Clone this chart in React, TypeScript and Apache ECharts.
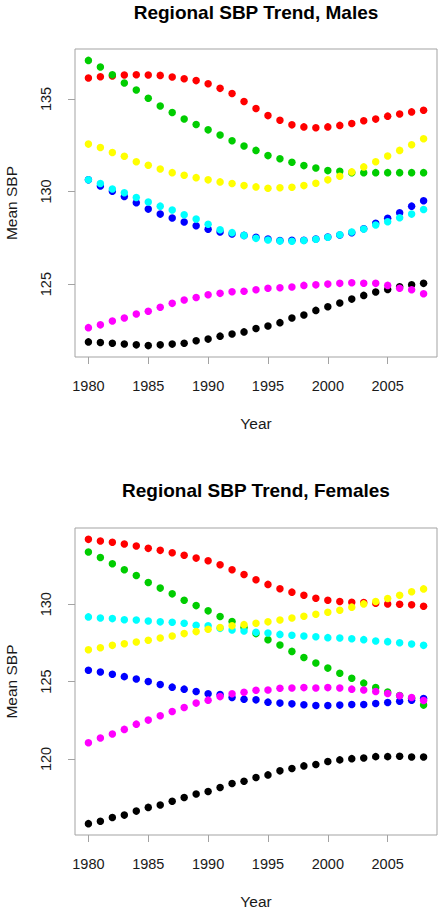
import React, { useEffect, useRef } from "react";
import * as echarts from "echarts";

const years = Array.from({ length: 29 }, (_, i) => 1980 + i);
const xTicks = [1980, 1985, 1990, 1995, 2000, 2005];
const maleYTicks = [125, 130, 135];
const femaleYTicks = [120, 125, 130];

const titles = ["Regional SBP Trend, Males", "Regional SBP Trend, Females"];
const xName = "Year";
const yName = "Mean SBP";

// drawing order (R palette order): black, red, green3, blue, cyan, magenta, yellow
const colors = ["#000000", "#FF0000", "#00CD00", "#0000FF", "#00FFFF", "#FF00FF", "#FFFF00"];
const regionNames = ["Black", "Red", "Green", "Blue", "Cyan", "Magenta", "Yellow"];

const maleBlack = [121.88,121.85,121.81,121.77,121.72,121.68,121.72,121.76,121.81,121.94,122.03,122.19,122.31,122.42,122.60,122.74,122.92,123.17,123.33,123.58,123.78,123.98,124.19,124.39,124.57,124.71,124.86,124.96,125.04];
const maleRed = [136.13,136.2,136.24,136.29,136.31,136.29,136.27,136.18,136.09,135.99,135.82,135.57,135.29,134.86,134.48,134.10,133.85,133.60,133.49,133.44,133.49,133.57,133.67,133.82,133.91,134.07,134.19,134.30,134.39];
const maleGreen = [137.08,136.72,136.31,135.86,135.48,135.04,134.62,134.27,133.92,133.62,133.33,133.05,132.74,132.46,132.22,131.94,131.77,131.58,131.40,131.27,131.13,131.09,131.02,131.02,131.02,131.02,131.02,131.02,131.02];
const maleBlue = [130.63,130.3,130.02,129.73,129.40,129.05,128.78,128.57,128.35,128.15,127.96,127.81,127.71,127.63,127.53,127.44,127.35,127.37,127.37,127.44,127.54,127.65,127.78,127.99,128.28,128.55,128.85,129.21,129.50];
const maleCyan = [130.63,130.43,130.14,129.93,129.68,129.43,129.21,129.0,128.75,128.51,128.23,127.94,127.78,127.63,127.47,127.38,127.33,127.31,127.35,127.42,127.53,127.67,127.81,127.97,128.19,128.37,128.58,128.78,129.03];
const maleMagenta = [122.65,122.80,123.01,123.17,123.39,123.53,123.75,123.96,124.14,124.28,124.43,124.50,124.59,124.61,124.70,124.78,124.80,124.84,124.93,124.96,125.0,125.04,125.07,125.05,125.04,124.93,124.78,124.70,124.48];
const maleYellow = [132.56,132.38,132.11,131.90,131.61,131.42,131.22,131.02,130.88,130.75,130.63,130.52,130.43,130.32,130.25,130.18,130.20,130.23,130.32,130.45,130.63,130.82,131.06,131.33,131.61,131.92,132.22,132.53,132.85];

const femaleBlack = [115.82,115.97,116.22,116.37,116.63,116.87,117.02,117.27,117.51,117.73,117.90,118.15,118.41,118.56,118.80,118.97,119.23,119.38,119.55,119.64,119.83,119.94,120.02,120.06,120.15,120.15,120.17,120.13,120.13];
const femaleRed = [134.19,134.08,134.0,133.89,133.76,133.61,133.48,133.33,133.16,132.98,132.81,132.55,132.23,131.92,131.58,131.28,131.0,130.78,130.58,130.39,130.26,130.17,130.13,130.11,130.06,130.02,130.0,129.96,129.87];
const femaleGreen = [133.37,133.02,132.61,132.23,131.86,131.40,131.04,130.67,130.26,129.91,129.57,129.20,128.88,128.49,128.10,127.71,127.36,126.95,126.56,126.20,125.87,125.54,125.22,124.90,124.62,124.33,124.10,123.92,123.48];
const femaleBlue = [125.73,125.62,125.47,125.32,125.17,125.0,124.81,124.64,124.51,124.36,124.21,124.16,123.97,123.86,123.82,123.67,123.61,123.56,123.50,123.45,123.45,123.48,123.52,123.52,123.58,123.65,123.73,123.80,123.91];
const femaleCyan = [129.18,129.11,129.07,129.0,128.98,128.92,128.86,128.83,128.77,128.64,128.60,128.44,128.34,128.27,128.18,128.14,128.05,127.99,127.95,127.90,127.84,127.82,127.77,127.71,127.62,127.58,127.51,127.43,127.34];
const femaleMagenta = [121.05,121.35,121.61,121.91,122.25,122.51,122.79,123.07,123.33,123.61,123.80,124.03,124.21,124.31,124.44,124.46,124.57,124.59,124.61,124.59,124.61,124.59,124.51,124.46,124.36,124.23,124.08,123.97,123.78];
const femaleYellow = [127.06,127.19,127.34,127.45,127.56,127.67,127.82,127.95,128.10,128.23,128.38,128.49,128.60,128.68,128.77,128.86,128.98,129.11,129.22,129.35,129.48,129.61,129.81,130.02,130.17,130.37,130.58,130.80,130.99];

const maleSeries = [maleBlack, maleRed, maleGreen, maleBlue, maleCyan, maleMagenta, maleYellow];
const femaleSeries = [femaleBlack, femaleRed, femaleGreen, femaleBlue, femaleCyan, femaleMagenta, femaleYellow];

const FONT = "'Liberation Sans', Arial, Helvetica, sans-serif";
const BOX = "#a3a3a3";
const TXT = "#1a1a1a";

// R style 4% axis extension
function rRange(vals: number[]) {
  const mn = Math.min(...vals);
  const mx = Math.max(...vals);
  const d = (mx - mn) * 0.04;
  return [mn - d, mx + d];
}

export default function App() {
  const ref = useRef<HTMLDivElement>(null);
  useEffect(() => {
    if (!ref.current) return;
    const chart = echarts.init(ref.current, undefined, { renderer: "svg" });
    const xr = rRange(years);
    const panels = [
      { series: maleSeries, ticks: maleYTicks },
      { series: femaleSeries, ticks: femaleYTicks },
    ];
    const grids = [
      { left: 75, top: 49, width: 362, height: 308 },
      { left: 75, top: 528, width: 362, height: 307 },
    ];
    const option: any = {
      animation: false,
      backgroundColor: "#ffffff",
      title: titles.map((t, i) => ({
        text: t,
        left: 256,
        top: i === 0 ? 3 : 481,
        textAlign: "center",
        padding: 0,
        textStyle: { fontFamily: FONT, fontSize: 19, fontWeight: "bold", color: "#000" },
      })),
      grid: grids.map((g) => ({
        ...g,
        show: true,
        borderColor: BOX,
        borderWidth: 1,
        backgroundColor: "transparent",
        containLabel: false,
        outerBoundsMode: "none",
      })),
      xAxis: panels.map((_, i) => ({
        type: "value",
        gridIndex: i,
        min: xr[0],
        max: xr[1],
        name: xName,
        nameLocation: "middle",
        nameGap: 58,
        nameTextStyle: { fontFamily: FONT, fontSize: 15.5, color: TXT },
        axisLine: { show: false },
        splitLine: { show: false },
        axisTick: { show: true, length: 7, customValues: xTicks, lineStyle: { color: BOX } },
        axisLabel: {
          customValues: xTicks,
          margin: 21,
          fontFamily: FONT,
          fontSize: 14.5,
          color: TXT,
          formatter: (v: number) => String(Math.round(v)),
        },
      })),
      yAxis: panels.map((p, i) => {
        const all = ([] as number[]).concat(...p.series);
        const yr = rRange(all);
        return {
          type: "value",
          gridIndex: i,
          min: yr[0],
          max: yr[1],
          name: yName,
          nameLocation: "middle",
          nameGap: 55.5,
          nameRotate: 90,
          nameTextStyle: { fontFamily: FONT, fontSize: 15.5, color: TXT },
          axisLine: { show: false },
          splitLine: { show: false },
          axisTick: { show: true, length: 7, customValues: p.ticks, lineStyle: { color: BOX } },
          axisLabel: {
            customValues: p.ticks,
            rotate: 90,
            margin: 22,
            fontFamily: FONT,
            fontSize: 14.5,
            color: TXT,
            formatter: (v: number) => String(Math.round(v)),
          },
        };
      }),
      series: panels.flatMap((p, i) =>
        p.series.map((vals, k) => ({
          type: "scatter",
          name: regionNames[k],
          xAxisIndex: i,
          yAxisIndex: i,
          symbol: "circle",
          symbolSize: 7.5,
          itemStyle: { color: colors[k], opacity: 1 },
          data: years.map((y, j) => [y, vals[j]]),
        }))
      ),
    };
    chart.setOption(option);
    return () => chart.dispose();
  }, []);
  return (
    <div
      ref={ref}
      style={{ position: "fixed", left: 0, top: 0, width: 447, height: 912, background: "#fff" }}
    />
  );
}
